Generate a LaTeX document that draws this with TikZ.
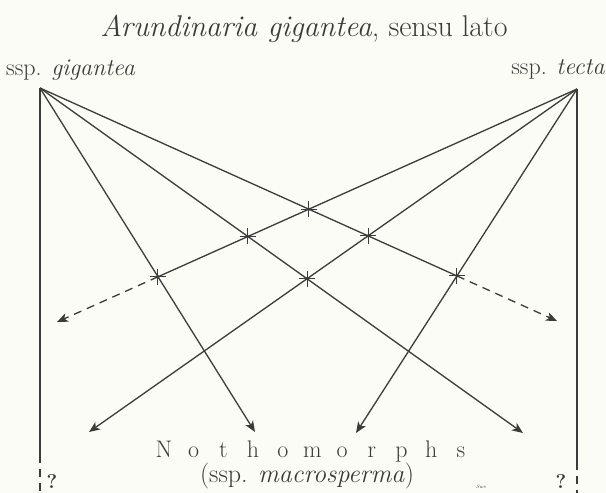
\documentclass[tikz,border=0pt]{standalone}
\usetikzlibrary{arrows.meta}
\definecolor{ink}{HTML}{3C3B3B}
\definecolor{paper}{HTML}{FCFCF7}
\begin{document}
\begin{tikzpicture}[x=1pt,y=-1pt,
  ln/.style={draw=ink,line width=1.3pt},
  arr/.style={ln,-{Stealth[length=11pt,width=9pt,inset=3pt]}},
  dsh/.style={ln,dash pattern=on 8pt off 6pt},
  lbl/.style={text=ink,inner sep=0pt,anchor=base},
  xm/.style={draw=ink,line width=1pt}]
\fill[paper] (0,0) rectangle (606,493);
\useasboundingbox (0,0) rectangle (606,493);
% apexes and tips
\coordinate (L) at (40,88);
\coordinate (R) at (577,89);
\coordinate (tL) at (57,322);
\coordinate (tR) at (557,321);
\coordinate (b1) at (89,432);
\coordinate (b2) at (255,432);
\coordinate (b3) at (356,433);
\coordinate (b4) at (523,433);
\coordinate (Lb) at (40,493);
\coordinate (Rb) at (577,493);
\coordinate (Ld) at (40,455);
\coordinate (Rd) at (577,462);
% crossings
\coordinate (A) at (intersection of L--tR and R--tL);
\coordinate (B) at (intersection of R--tL and L--b4);
\coordinate (C) at (intersection of L--tR and R--b1);
\coordinate (D) at (intersection of L--b4 and R--b1);
\coordinate (E) at (intersection of R--tL and L--b2);
\coordinate (F) at (intersection of L--tR and R--b3);
% texts
\node[lbl,font=\fontsize{30}{34}\selectfont] (title) at (304,36) {\textit{Arundinaria gigantea}, sensu lato};
\node[lbl,font=\fontsize{24}{28}\selectfont,anchor=base west] (sg) at (6,75) {ssp. \textit{gigantea}};
\node[lbl,font=\fontsize{24}{28}\selectfont,anchor=base east] (st) at (605,74) {ssp. \textit{tecta}};
\foreach \ch [count=\i] in {N,o,t,h,o,m,o,r,p,h,s}
  \node[lbl,font=\fontsize{24}{28}\selectfont] (n\i) at ({164+(\i-1)*29.7},457) {\ch};
\node[lbl,font=\fontsize{26}{30}\selectfont] (ms) at (307,482) {(ssp. \textit{macrosperma})};
\node[lbl,font=\fontsize{20}{24}\selectfont\bfseries] (q1) at (52,488) {?};
\node[lbl,font=\fontsize{20}{24}\selectfont\bfseries] (q2) at (561,488) {?};
\node[lbl,font=\fontsize{5}{6}\selectfont\itshape] (sig) at (481,488) {Sws};
% verticals
\draw[ln] (L) -- (Ld);
\draw[dsh] (Ld) -- (Lb);
\draw[ln] (R) -- (Rd);
\draw[dsh] (Rd) -- (Rb);
% long lines
\draw[ln] (L) -- (F);
\draw[dsh,-{Stealth[length=11pt,width=9pt,inset=3pt]}] (F) -- (tR);
\draw[ln] (R) -- (E);
\draw[dsh,-{Stealth[length=11pt,width=9pt,inset=3pt]}] (E) -- (tL);
\draw[arr] (L) -- (b4);
\draw[arr] (R) -- (b1);
\draw[arr] (L) -- (b2);
\draw[arr] (R) -- (b3);
% crossing marks
\foreach \p in {A,B,C,D,E,F}{
  \draw[xm] (\p) ++(0,-8) -- ++(0,16);
  \draw[xm] (\p) ++(-8,0) -- ++(16,0);
  \fill[ink] (\p) circle (1.8pt);
}
\end{tikzpicture}
\end{document}
